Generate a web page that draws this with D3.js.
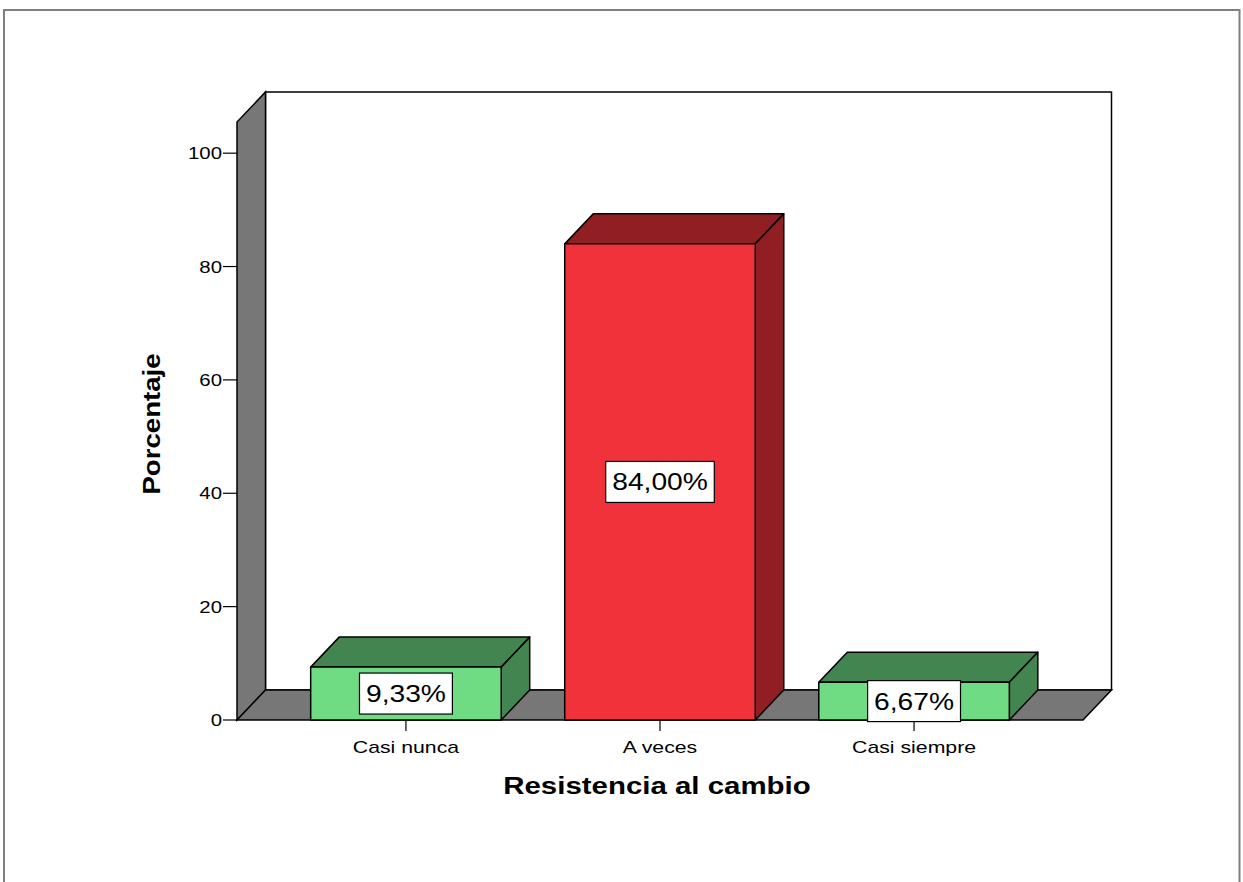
<!DOCTYPE html>
<html><head><meta charset="utf-8">
<script src="https://cdn.jsdelivr.net/npm/d3@7"></script>
<style>html,body{margin:0;padding:0;background:#fff;overflow:hidden}</style>
</head><body>
<svg id="c" width="1243" height="882"></svg>
<script>
const categories = ["Casi nunca", "A veces", "Casi siempre"];
const values = [9.33, 84.00, 6.67];
const valueLabels = ["9,33%", "84,00%", "6,67%"];
const yTicks = [0, 20, 40, 60, 80, 100];
const xTitle = "Resistencia al cambio";
const yTitle = "Porcentaje";

const svg = d3.select("#c");
const font = "'Liberation Sans', Arial, sans-serif";
const DX = 28.5, DY = -30;
const x0 = 237, x1 = 1083, yBase = 720;

const y = d3.scaleLinear().domain([0, 105.5]).range([yBase, 122]);
const x = d3.scaleBand().domain(categories).range([x0, x1]).paddingInner(0.25).paddingOuter(0.29);

// stretched text helper (reference glyphs are horizontally wider than Arial)
function stext(parent, tx, ty, txt, opts) {
  const g = parent.append("g").attr("transform", `translate(${tx},${ty})${opts.rot ? " rotate(" + opts.rot + ")" : ""} scale(${opts.sx},1)`);
  return g.append("text").attr("x", 0).attr("y", 0).attr("dy", opts.dy || null)
    .attr("text-anchor", opts.anchor || "middle").attr("font-family", font)
    .attr("font-size", opts.size).attr("font-weight", opts.bold ? "bold" : null)
    .attr("fill", "#000").text(txt);
}

// outer frame
svg.append("rect").attr("x", 4).attr("y", 10).attr("width", 1235.5).attr("height", 900)
  .attr("fill", "none").attr("stroke", "#808080").attr("stroke-width", 2);

const g = svg.append("g");
const line = d3.line();
const yTop = y.range()[1];

// back wall
g.append("path").attr("d", line([[x0+DX, yBase+DY],[x0+DX, yTop+DY],[x1+DX, yTop+DY],[x1+DX, yBase+DY]]) + "Z")
  .attr("fill", "#fff").attr("stroke", "#000").attr("stroke-width", 1.5);
// left wall
g.append("path").attr("d", line([[x0, yBase],[x0, yTop],[x0+DX, yTop+DY],[x0+DX, yBase+DY]]) + "Z")
  .attr("fill", "#777").attr("stroke", "#000").attr("stroke-width", 1.5);
// floor
g.append("path").attr("d", line([[x0, yBase],[x1, yBase],[x1+DX, yBase+DY],[x0+DX, yBase+DY]]) + "Z")
  .attr("fill", "#777").attr("stroke", "#000").attr("stroke-width", 1.5);

// y axis ticks
const yAxis = svg.append("g");
yTicks.forEach(t => {
  yAxis.append("line").attr("x1", x0 - 14).attr("x2", x0).attr("y1", y(t)).attr("y2", y(t))
    .attr("stroke", "#000").attr("stroke-width", 1.2);
  stext(yAxis, x0 - 15, y(t), t, {sx: 1.2, size: 17, anchor: "end", dy: "0.36em"});
});

// x ticks and labels
categories.forEach((c, i) => {
  const cx = x(c) + x.bandwidth() / 2;
  svg.append("line").attr("x1", cx).attr("x2", cx).attr("y1", yBase).attr("y2", yBase + 11)
    .attr("stroke", "#000").attr("stroke-width", 1.2);
  stext(svg, cx, 753, c, {sx: 1.25, size: 17});
});

const colors = [
  {front: "#6fdc83", dark: "#428550"},
  {front: "#f0323a", dark: "#911e23"},
  {front: "#6fdc83", dark: "#428550"}
];

// bars
categories.forEach((c, i) => {
  const bx0 = x(c), bx1 = x(c) + x.bandwidth(), by = y(values[i]);
  const bg = svg.append("g").attr("stroke", "#000").attr("stroke-width", 1.5).attr("stroke-linejoin", "round");
  bg.append("path").attr("d", line([[bx0, by],[bx0+DX, by+DY],[bx1+DX, by+DY],[bx1, by]]) + "Z").attr("fill", colors[i].dark);
  bg.append("path").attr("d", line([[bx1, by],[bx1+DX, by+DY],[bx1+DX, yBase+DY],[bx1, yBase]]) + "Z").attr("fill", colors[i].dark);
  bg.append("path").attr("d", line([[bx0, by],[bx1, by],[bx1, yBase],[bx0, yBase]]) + "Z").attr("fill", colors[i].front);

  const cx = (bx0 + bx1) / 2, cy = (by + yBase) / 2;
  const sx = 1.2;
  const lg = svg.append("g");
  const rect = lg.append("rect");
  const t = stext(lg, cx, cy, valueLabels[i], {sx: sx, size: 23.5, dy: "0.36em"});
  const w = t.node().getBBox().width * sx;
  rect.attr("x", cx - w / 2 - 6.5).attr("y", cy - 20.5).attr("width", w + 13).attr("height", 41)
    .attr("fill", "#fff").attr("stroke", "#000").attr("stroke-width", 1.2);
});

// titles
stext(svg, 657, 794, xTitle, {sx: 1.28, size: 23, bold: true});
stext(svg, 160, 424, yTitle, {sx: 1.2, size: 23, bold: true, rot: -90});
</script>
</body></html>
